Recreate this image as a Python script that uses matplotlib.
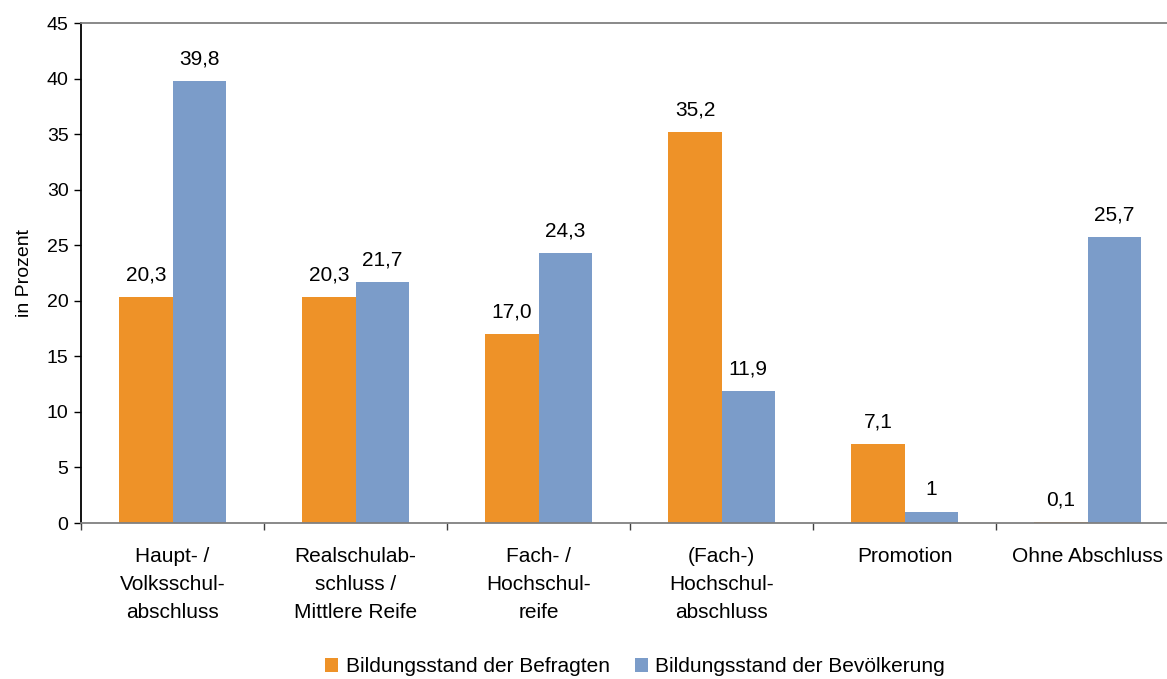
import matplotlib.pyplot as plt
import numpy as np

plt.rcParams['font.family'] = ['Liberation Sans', 'DejaVu Sans']

categories = ['Haupt- /\nVolksschul-\nabschluss', 'Realschulab-\nschluss /\nMittlere Reife',
              'Fach- /\nHochschul-\nreife', '(Fach-)\nHochschul-\nabschluss', 'Promotion', 'Ohne Abschluss']
befragte = [20.3, 20.3, 17.0, 35.2, 7.1, 0.1]
bevoelkerung = [39.8, 21.7, 24.3, 11.9, 1, 25.7]
befragte_txt = ['20,3', '20,3', '17,0', '35,2', '7,1', '0,1']
bevoelkerung_txt = ['39,8', '21,7', '24,3', '11,9', '1', '25,7']

W, H = 1167, 679
fig = plt.figure(figsize=(W / 100, H / 100), dpi=100)
ax = fig.add_axes([81 / W, 1 - 523 / H, (1167 - 81) / W, (523 - 23) / H])

x = np.arange(len(categories))
bw = 0.29
b1 = ax.bar(x - bw / 2, befragte, bw, color='#EE9228', label='Bildungsstand der Befragten')
b2 = ax.bar(x + bw / 2, bevoelkerung, bw, color='#7B9CC9', label='Bildungsstand der Bevölkerung')
ax.bar_label(b1, labels=befragte_txt, padding=9, fontsize=15)
ax.bar_label(b2, labels=bevoelkerung_txt, padding=9, fontsize=15)

ax.set_ylim(0, 45)
ax.set_yticks(range(0, 46, 5))

ax.set_xticks(np.arange(len(categories) + 1) - 0.5)
ax.set_xticklabels([])
ax.set_xticks(x, minor=True)
ax.set_xticklabels(categories, minor=True, fontsize=15, linespacing=1.6, va='top')
# chart is cut off on the right, last group runs past the edge
ax.set_xlim(-0.5, -0.5 + (1167 - 81) / 183)
ax.tick_params(axis='x', which='minor', length=0, pad=17)
ax.tick_params(axis='x', which='major', length=5, color='#404040', width=1)
ax.tick_params(axis='y', length=5, labelsize=14, width=1, pad=4)

ax.spines['right'].set_visible(False)
ax.spines['top'].set_color('#808080')
ax.spines['bottom'].set_color('#808080')
ax.spines['left'].set_color('black')
for s in ax.spines.values():
    s.set_linewidth(1.3)

ax.set_ylabel('in Prozent', fontsize=14, labelpad=10)

fig.legend(loc='center', bbox_to_anchor=(635 / W, 1 - 667 / H), ncol=2, frameon=False,
           fontsize=15, handlelength=0.65, handleheight=0.65, handletextpad=0.35, columnspacing=1.2)

fig.savefig('out.png', dpi=100)
